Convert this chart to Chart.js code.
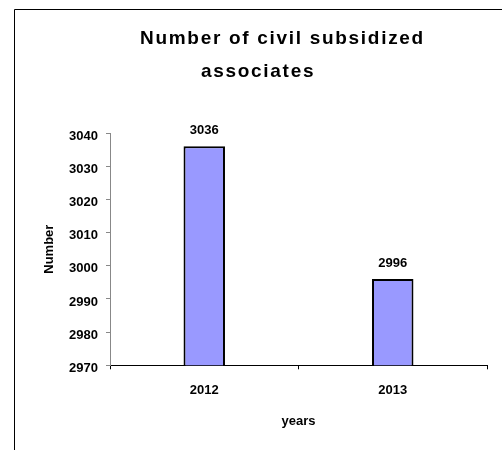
<!DOCTYPE html>
<html>
<head>
<meta charset="utf-8">
<script src="https://cdn.jsdelivr.net/npm/chart.js@4/dist/chart.umd.min.js"></script>
<style>
    html, body { margin: 0; padding: 0; background: #fff; overflow: hidden; }
    #wrap { position: relative; width: 502px; height: 450px; }
</style>
</head>
<body>
<div id="wrap"><canvas id="chart"></canvas></div>
<script>
// 数据
const years = ['2012', '2013'];
const associates = [3036, 2996];
const titleLines = ['Number of civil subsidized', 'associates'];
const yMin = 2970;
const yMax = 3040;
const yStep = 10;

const fontFamily = "'Liberation Sans', Arial, sans-serif";

// 外框 + 标题
const framePlugin = {
    id: 'frame',
    beforeDraw(chart) {
        const ctx = chart.ctx;
        ctx.save();
        ctx.fillStyle = '#fff';
        ctx.fillRect(0, 0, chart.width, chart.height);
        ctx.strokeStyle = '#000';
        ctx.lineWidth = 1;
        ctx.beginPath();
        ctx.moveTo(14.5, chart.height);
        ctx.lineTo(14.5, 9.5);
        ctx.lineTo(chart.width, 9.5);
        ctx.stroke();
        ctx.restore();
    },
    afterDraw(chart) {
        const ctx = chart.ctx;
        ctx.save();
        ctx.fillStyle = '#000';
        ctx.font = 'bold 19px ' + fontFamily;
        ctx.textAlign = 'left';
        ctx.textBaseline = 'alphabetic';
        ctx.letterSpacing = '1.7px';
        ctx.fillText(titleLines[0], 140, 44);
        ctx.fillText(titleLines[1], 201, 77);
        ctx.restore();
    }
};

// 柱顶数值
const valueLabels = {
    id: 'valueLabels',
    afterDatasetsDraw(chart) {
        const ctx = chart.ctx;
        const meta = chart.getDatasetMeta(0);
        ctx.save();
        ctx.fillStyle = '#000';
        ctx.font = 'bold 13px ' + fontFamily;
        ctx.textAlign = 'center';
        ctx.textBaseline = 'middle';
        meta.data.forEach((bar, i) => {
            ctx.fillText(String(associates[i]), bar.x, bar.y - 16);
        });
        ctx.restore();
    }
};

new Chart(document.getElementById('chart'), {
    type: 'bar',
    data: {
        labels: years,
        datasets: [{
            data: associates,
            backgroundColor: '#9999FF',
            borderColor: '#000',
            borderWidth: 2,
            categoryPercentage: 1,
            barPercentage: 0.22
        }]
    },
    options: {
        responsive: true,
        maintainAspectRatio: false,
        animation: false,
        layout: {
            padding: { top: 133, right: 15, bottom: 0, left: 0 }
        },
        plugins: {
            legend: { display: false },
            tooltip: { enabled: false }
        },
        scales: {
            x: {
                afterFit(scale) { scale.height = 84.7; },
                grid: {
                    drawOnChartArea: false,
                    drawTicks: true,
                    tickLength: 4,
                    color: '#000'
                },
                border: { color: '#000', width: 1 },
                ticks: {
                    color: '#000',
                    padding: 13,
                    font: { family: fontFamily, size: 13, weight: 'bold' }
                },
                title: {
                    display: true,
                    text: 'years',
                    color: '#000',
                    padding: { top: 0, bottom: 21 },
                    font: { family: fontFamily, size: 13, weight: 'bold' }
                }
            },
            y: {
                min: yMin,
                max: yMax,
                afterFit(scale) { scale.width = 110; },
                grid: {
                    drawOnChartArea: false,
                    drawTicks: true,
                    tickLength: 4,
                    color: '#888'
                },
                border: { color: '#888', width: 1 },
                ticks: {
                    stepSize: yStep,
                    color: '#000',
                    padding: 8,
                    labelOffset: 3,
                    callback: value => String(value),
                    font: { family: fontFamily, size: 13, weight: 'bold' }
                },
                title: {
                    display: true,
                    text: 'Number',
                    color: '#000',
                    padding: { top: 41.7, bottom: 0 },
                    font: { family: fontFamily, size: 13, weight: 'bold' }
                }
            }
        }
    },
    plugins: [framePlugin, valueLabels]
});
</script>
</body>
</html>
